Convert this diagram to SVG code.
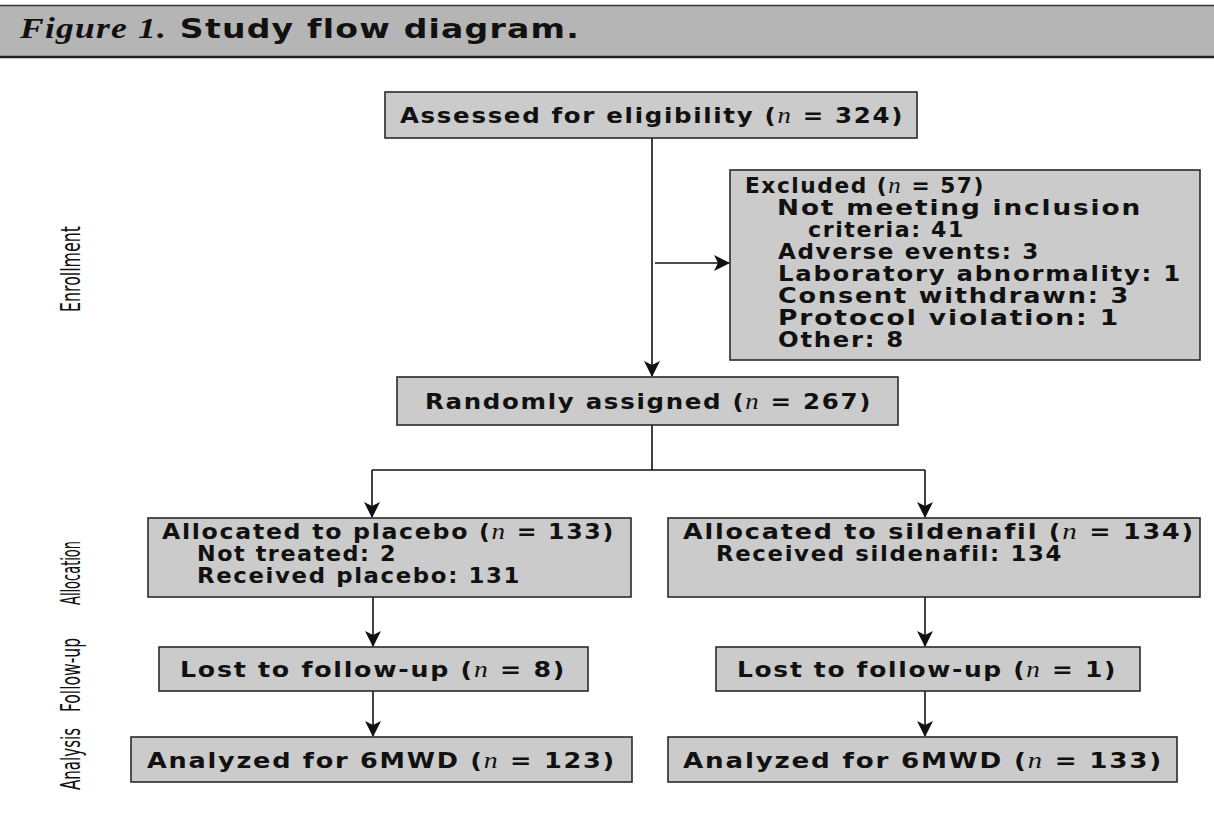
<svg xmlns="http://www.w3.org/2000/svg" width="1214" height="813" viewBox="0 0 1214 813">
<style>
.box{fill:#cbcbcb;stroke:#2a2a2a;stroke-width:1.6}
.t{font-family:"DejaVu Sans","Liberation Sans",sans-serif;font-size:22px;font-weight:bold;fill:#111;letter-spacing:1.5px}
.m{font-size:21px}
.n{font-family:"Liberation Serif",serif;font-style:italic;font-weight:normal;font-size:24px}
.side{font-family:"Liberation Sans Narrow","DejaVu Sans Condensed","Liberation Sans",sans-serif;font-size:26px;fill:#111}
.c{fill:none;stroke:#111;stroke-width:1.6}
</style>
<defs>
<marker id="ah" viewBox="0 0 16 16" refX="15" refY="8" markerWidth="16" markerHeight="16" markerUnits="userSpaceOnUse" orient="auto">
<path d="M0,0 L16,8 L0,16 L4,8 z" fill="#111"/>
</marker>
</defs>
<rect width="1214" height="813" fill="#ffffff"/>
<g id="header">
<rect x="0" y="5" width="1214" height="52" fill="#b5b5b5"/>
<line x1="0" y1="5.5" x2="1214" y2="5.5" stroke="#333" stroke-width="1.5"/>
<line x1="0" y1="57" x2="1214" y2="57" stroke="#222" stroke-width="2.5"/>
<text x="20" y="38" textLength="560" lengthAdjust="spacingAndGlyphs" style="fill:#111;letter-spacing:1px"><tspan font-family="Liberation Serif,serif" font-style="italic" font-weight="bold" font-size="29">Figure 1.</tspan><tspan font-family="DejaVu Sans,sans-serif" font-weight="bold" font-size="27"> Study flow diagram.</tspan></text>
</g>
<g id="side-labels">
<text class="side" transform="translate(80,269) rotate(-90)" text-anchor="middle" textLength="86" lengthAdjust="spacingAndGlyphs">Enrollment</text>
<text class="side" transform="translate(80,573) rotate(-90)" text-anchor="middle" textLength="64" lengthAdjust="spacingAndGlyphs">Allocation</text>
<text class="side" transform="translate(80,675) rotate(-90)" text-anchor="middle" textLength="74" lengthAdjust="spacingAndGlyphs">Follow-up</text>
<text class="side" transform="translate(80,759) rotate(-90)" text-anchor="middle" textLength="62" lengthAdjust="spacingAndGlyphs">Analysis</text>
</g>
<g id="connectors">
<line class="c" x1="652" y1="138" x2="652" y2="376" marker-end="url(#ah)"/>
<line class="c" x1="655" y1="263" x2="729" y2="263" marker-end="url(#ah)"/>
<polyline class="c" points="652,425 652,470"/>
<polyline class="c" points="372,470 925,470"/>
<line class="c" x1="372" y1="470" x2="372" y2="517" marker-end="url(#ah)"/>
<line class="c" x1="925" y1="470" x2="925" y2="517" marker-end="url(#ah)"/>
<line class="c" x1="373" y1="597" x2="373" y2="646" marker-end="url(#ah)"/>
<line class="c" x1="925" y1="597" x2="925" y2="646" marker-end="url(#ah)"/>
<line class="c" x1="373" y1="691" x2="373" y2="736" marker-end="url(#ah)"/>
<line class="c" x1="925" y1="691" x2="925" y2="736" marker-end="url(#ah)"/>
</g>
<g id="assessed">
<rect class="box" x="385" y="92" width="532" height="46"/>
<text class="t" x="400" y="123" textLength="504" lengthAdjust="spacingAndGlyphs">Assessed for eligibility (<tspan class="n">n</tspan> = 324)</text>
</g>
<g id="excluded">
<rect class="box" x="730" y="170" width="470" height="190"/>
<text class="t m" x="745" y="193" textLength="240" lengthAdjust="spacingAndGlyphs">Excluded (<tspan class="n">n</tspan> = 57)</text>
<text class="t m" x="777" y="215" textLength="365" lengthAdjust="spacingAndGlyphs">Not meeting inclusion</text>
<text class="t m" x="808" y="237" textLength="157" lengthAdjust="spacingAndGlyphs">criteria: 41</text>
<text class="t m" x="778" y="259" textLength="262" lengthAdjust="spacingAndGlyphs">Adverse events: 3</text>
<text class="t m" x="778" y="281" textLength="404" lengthAdjust="spacingAndGlyphs">Laboratory abnormality: 1</text>
<text class="t m" x="778" y="303" textLength="352" lengthAdjust="spacingAndGlyphs">Consent withdrawn: 3</text>
<text class="t m" x="778" y="325" textLength="342" lengthAdjust="spacingAndGlyphs">Protocol violation: 1</text>
<text class="t m" x="778" y="347" textLength="127" lengthAdjust="spacingAndGlyphs">Other: 8</text>
</g>
<g id="randomized">
<rect class="box" x="397" y="377" width="501" height="48"/>
<text class="t" x="425" y="409" textLength="447" lengthAdjust="spacingAndGlyphs">Randomly assigned (<tspan class="n">n</tspan> = 267)</text>
</g>
<g id="alloc-placebo">
<rect class="box" x="148" y="518" width="483" height="79"/>
<text class="t m" x="162" y="539" textLength="453" lengthAdjust="spacingAndGlyphs">Allocated to placebo (<tspan class="n">n</tspan> = 133)</text>
<text class="t m" x="197" y="561" textLength="200" lengthAdjust="spacingAndGlyphs">Not treated: 2</text>
<text class="t m" x="197" y="583" textLength="324" lengthAdjust="spacingAndGlyphs">Received placebo: 131</text>
</g>
<g id="alloc-sildenafil">
<rect class="box" x="668" y="518" width="532" height="79"/>
<text class="t m" x="683" y="539" textLength="512" lengthAdjust="spacingAndGlyphs">Allocated to sildenafil (<tspan class="n">n</tspan> = 134)</text>
<text class="t m" x="716" y="561" textLength="347" lengthAdjust="spacingAndGlyphs">Received sildenafil: 134</text>
</g>
<g id="lost-placebo">
<rect class="box" x="159" y="647" width="429" height="44"/>
<text class="t" x="180" y="677" textLength="386" lengthAdjust="spacingAndGlyphs">Lost to follow-up (<tspan class="n">n</tspan> = 8)</text>
</g>
<g id="lost-sildenafil">
<rect class="box" x="716" y="647" width="424" height="44"/>
<text class="t" x="737" y="677" textLength="380" lengthAdjust="spacingAndGlyphs">Lost to follow-up (<tspan class="n">n</tspan> = 1)</text>
</g>
<g id="analyzed-placebo">
<rect class="box" x="131" y="737" width="501" height="45"/>
<text class="t" x="147" y="768" textLength="469" lengthAdjust="spacingAndGlyphs">Analyzed for 6MWD (<tspan class="n">n</tspan> = 123)</text>
</g>
<g id="analyzed-sildenafil">
<rect class="box" x="668" y="737" width="509" height="45"/>
<text class="t" x="683" y="768" textLength="480" lengthAdjust="spacingAndGlyphs">Analyzed for 6MWD (<tspan class="n">n</tspan> = 133)</text>
</g>
</svg>
